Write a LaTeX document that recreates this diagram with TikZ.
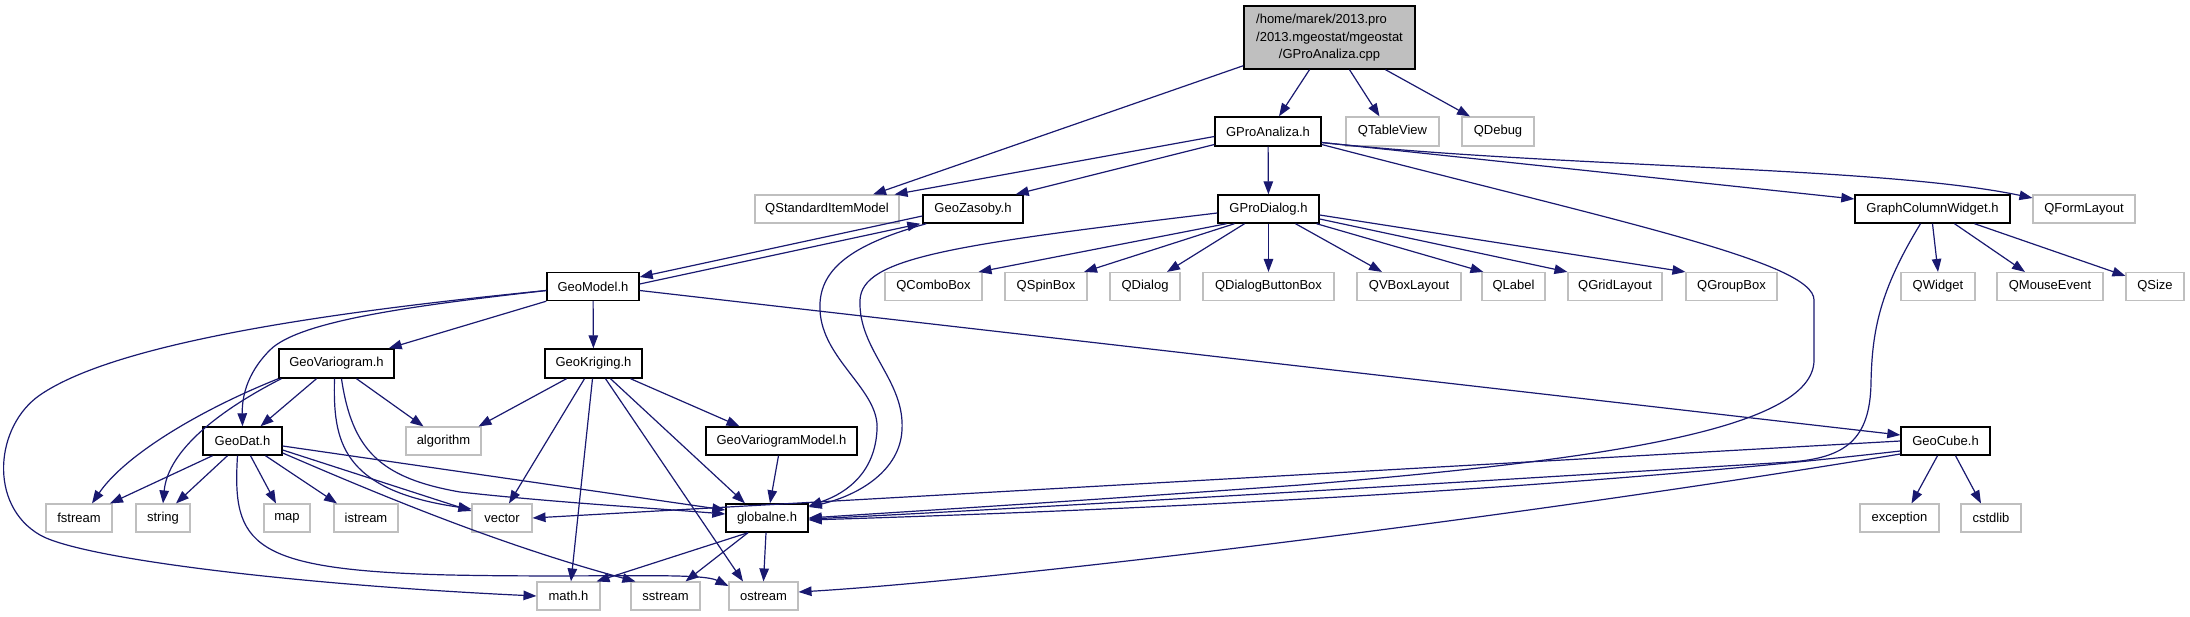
\documentclass[tikz,border=0pt]{standalone}
\usepackage{fontspec}
\setmainfont{Liberation Sans}
\usetikzlibrary{arrows.meta}
\definecolor{edgec}{RGB}{25,25,112}
\definecolor{greyb}{RGB}{191,191,191}
\begin{document}
\begin{tikzpicture}[x=1pt,y=-1pt,font=\fontsize{13}{15}\selectfont,
  doc/.style={draw=black,line width=1.4pt,inner sep=0pt,minimum height=28pt},
  ext/.style={draw=greyb,line width=1.1pt,inner sep=0pt,minimum height=28pt},
  rootbox/.style={draw=black,fill=greyb,line width=1.4pt,inner sep=0pt,minimum height=63pt,minimum width=171pt},
  edge/.style={draw=edgec,line width=1.2pt,-{Triangle[length=13pt,width=9.5pt]}}]
\useasboundingbox (0,0) rectangle (2190,616);
% row 0
\node[rootbox] (cpp) at (1329.5,37.5) {\fontsize{13}{17.5}\selectfont\begin{tabular}{@{}l@{}}/home/marek/2013.pro\\/2013.mgeostat/mgeostat\\\multicolumn{1}{@{}c@{}}{/GProAnaliza.cpp}\end{tabular}};
% row 1
\node[doc,minimum width=106pt,minimum height=29pt] (gpa) at (1268,131.5) {GProAnaliza.h};
\node[ext,minimum width=93pt,minimum height=29pt] (qtv) at (1392.5,131.5) {QTableView};
\node[ext,minimum width=72pt,minimum height=29pt] (qdb) at (1498,131.5) {QDebug};
% row 2
\node[ext,minimum width=144pt] (qsim) at (827,209) {QStandardItemModel};
\node[doc,minimum width=100pt] (gz) at (973,209) {GeoZasoby.h};
\node[doc,minimum width=101pt] (gpd) at (1268.5,209) {GProDialog.h};
\node[doc,minimum width=155pt] (gcw) at (1932.5,209) {GraphColumnWidget.h};
\node[ext,minimum width=102pt] (qfl) at (2084,209) {QFormLayout};
% row 3
\node[doc,minimum width=92pt] (gm) at (593,286.5) {GeoModel.h};
\node[ext,minimum width=97pt] (qcb) at (933.5,286.5) {QComboBox};
\node[ext,minimum width=82pt] (qsb) at (1046,286.5) {QSpinBox};
\node[ext,minimum width=70pt] (qd) at (1145,286.5) {QDialog};
\node[ext,minimum width=131pt] (qdbb) at (1268.5,286.5) {QDialogButtonBox};
\node[ext,minimum width=104pt] (qvb) at (1409,286.5) {QVBoxLayout};
\node[ext,minimum width=63pt] (qlab) at (1513.5,286.5) {QLabel};
\node[ext,minimum width=94pt] (qgl) at (1615,286.5) {QGridLayout};
\node[ext,minimum width=91pt] (qgb) at (1731.5,286.5) {QGroupBox};
\node[ext,minimum width=74pt] (qw) at (1938,286.5) {QWidget};
\node[ext,minimum width=106pt] (qme) at (2050,286.5) {QMouseEvent};
\node[ext,minimum width=58pt] (qs) at (2155,286.5) {QSize};
% row 4
\node[doc,minimum width=115pt,minimum height=29pt] (gv) at (336.5,363.5) {GeoVariogram.h};
\node[doc,minimum width=97pt,minimum height=29pt] (gk) at (593.5,363.5) {GeoKriging.h};
% row 5
\node[doc,minimum width=79pt] (gd) at (242.5,441) {GeoDat.h};
\node[ext,minimum width=75pt] (alg) at (443.5,441) {algorithm};
\node[doc,minimum width=151pt] (gvm) at (781.5,441) {GeoVariogramModel.h};
\node[doc,minimum width=89pt] (gc) at (1945.5,441) {GeoCube.h};
% row 6
\node[ext,minimum width=66pt] (fs) at (79,518) {fstream};
\node[ext,minimum width=54pt] (str) at (163,518) {string};
\node[ext,minimum width=46pt] (map) at (287,518) {map};
\node[ext,minimum width=64pt] (ist) at (366,518) {istream};
\node[ext,minimum width=60pt] (vec) at (502,518) {vector};
\node[doc,minimum width=82pt] (glob) at (767,518) {globalne.h};
\node[ext,minimum width=79pt] (exc) at (1899.5,518) {exception};
\node[ext,minimum width=60pt] (cst) at (1991,518) {cstdlib};
% row 7
\node[ext,minimum width=63pt] (mh) at (568.5,596) {math.h};
\node[ext,minimum width=69pt] (ss) at (665.5,596) {sstream};
\node[ext,minimum width=69pt] (ost) at (763.5,596) {ostream};

% cpp
\draw[edge] ([yshift=4pt]cpp.south west) -- ([xshift=46pt]qsim.north);
\draw[edge] ([xshift=-20pt]cpp.south) -- ([xshift=11pt]gpa.north);
\draw[edge] ([xshift=20pt]cpp.south) -- ([xshift=-13pt]qtv.north);
\draw[edge] ([xshift=56pt]cpp.south) -- ([xshift=-28pt]qdb.north);
% GProAnaliza.h
\draw[edge] ([yshift=-5pt]gpa.west) -- ([xshift=-5pt]qsim.north east);
\draw[edge] ([yshift=-13pt]gpa.west) -- ([xshift=-8pt]gz.north east);
\draw[edge] (gpa) -- (gpd);
\draw[edge] ([yshift=-11pt]gpa.east) -- ([yshift=10pt]gcw.west);
\draw[edge] ([yshift=-11pt]gpa.east) .. controls (1560,168) and (1880,166) .. ([yshift=11pt]qfl.west);
\draw[edge] ([yshift=-13pt]gpa.east) .. controls (1620,222) and (1814,262) .. (1814,300) -- (1814,360) .. controls (1814,430) and (1600,460) .. (1300,485) .. controls (1050,503) and (900,512) .. (glob.east);
% GeoZasoby
\draw[edge] ([yshift=-7pt]gz.west) -- ([yshift=9.5pt]gm.east);
\draw[edge] ([xshift=4pt]gz.south west) .. controls (850,245) and (818,270) .. (820,310) .. controls (822,360) and (880,390) .. (877,430) .. controls (875,470) and (850,492) .. ([yshift=12pt]glob.east);
% GProDialog
\draw[edge] ([xshift=-42pt]gpd.south) -- ([xshift=45pt]qcb.north);
\draw[edge] ([xshift=-34pt]gpd.south) -- ([xshift=38pt]qsb.north);
\draw[edge] ([xshift=-24pt]gpd.south) -- ([xshift=22pt]qd.north);
\draw[edge] (gpd) -- (qdbb);
\draw[edge] ([xshift=27pt]gpd.south) -- ([xshift=-27pt]qvb.north);
\draw[edge] ([xshift=48pt]gpd.south) -- ([xshift=2pt]qlab.north west);
\draw[edge] ([yshift=-10pt]gpd.east) -- (qgl.north west);
\draw[edge] ([yshift=-6pt]gpd.east) -- (qgb.north west);
\draw[edge] ([yshift=-4pt]gpd.west) .. controls (950,245) and (862,258) .. (860,300) .. controls (858,350) and (905,380) .. (902,430) .. controls (900,470) and (860,495) .. ([yshift=11pt]glob.east);
% GraphColumnWidget
\draw[edge] (gcw.south) -- (qw.north);
\draw[edge] ([xshift=22pt]gcw.south) -- ([xshift=-25pt]qme.north);
\draw[edge] ([xshift=42pt]gcw.south) -- ([yshift=-4pt]qs.north west);
\draw[edge] ([xshift=-12pt]gcw.south) .. controls (1880,290) and (1872,330) .. (1871,383) .. controls (1870,440) and (1845,458) .. (1790,462) .. controls (1500,480) and (1000,510) .. ([yshift=-1pt]glob.east);
% GeoModel
\draw[edge] ([yshift=2.5pt]gm.east) -- ([xshift=-2pt]gz.south west);
\draw[edge] (gm.south west) -- ([xshift=-6pt]gv.north east);
\draw[edge] (gm) -- (gk);
\draw[edge] ([yshift=-4pt]gm.west) .. controls (420,305) and (300,320) .. (270,350) .. controls (245,375) and (242,400) .. (gd.north);
\draw[edge] ([yshift=-4pt]gm.west) .. controls (350,310) and (120,340) .. (40,395) .. controls (-5,426) and (-12,505) .. (40,535) .. controls (82,559) and (300,585) .. (mh.west);
\draw[edge] ([yshift=-4pt]gm.east) -- ([yshift=6pt]gc.west);
% GeoVariogram
\draw[edge] ([xshift=-20pt]gv.south) -- ([xshift=18pt]gd.north);
\draw[edge] ([xshift=20pt]gv.south) -- ([xshift=-20pt]alg.north);
\draw[edge] (gv.south west) .. controls (200,410) and (125,455) .. ([xshift=13pt]fs.north);
\draw[edge] ([xshift=3pt]gv.south west) .. controls (220,410) and (168,450) .. (str.north);
\draw[edge] ([xshift=-2pt]gv.south) .. controls (333,440) and (340,490) .. ([yshift=9pt]vec.west);
\draw[edge] ([xshift=5pt]gv.south) .. controls (352,450) and (380,478) .. (460,492) .. controls (550,502) and (650,508) .. ([yshift=4pt]glob.west);
% GeoKriging
\draw[edge] ([xshift=-27pt]gk.south) -- ([xshift=35pt]alg.north);
\draw[edge] ([xshift=-9pt]gk.south) -- ([xshift=7pt]vec.north);
\draw[edge] ([xshift=-1pt]gk.south) -- ([xshift=2.5pt]mh.north);
\draw[edge] ([xshift=12pt]gk.south) -- ([xshift=-20.5pt]ost.north);
\draw[edge] ([xshift=17pt]gk.south) -- ([xshift=-22pt]glob.north);
\draw[edge] ([xshift=37pt]gk.south) -- ([xshift=-42pt]gvm.north);
% GeoDat
\draw[edge] ([xshift=-30pt]gd.south) -- ([xshift=31pt]fs.north);
\draw[edge] ([xshift=-15pt]gd.south) -- ([xshift=13pt]str.north);
\draw[edge] ([xshift=8pt]gd.south) -- ([xshift=-11pt]map.north);
\draw[edge] ([xshift=23pt]gd.south) -- ([xshift=-29pt]ist.north);
\draw[edge] ([yshift=-9pt]gd.east) -- ([yshift=7pt]vec.west);
\draw[edge] ([yshift=-12pt]gd.east) .. controls (380,495) and (500,545) .. ([xshift=5pt]ss.north west);
\draw[edge] ([xshift=-5pt]gd.south) .. controls (232,545) and (250,570) .. (450,575) .. controls (600,578) and (700,572) .. ([yshift=10pt]ost.west);
\draw[edge] ([yshift=-5pt]gd.east) -- ([yshift=8pt]glob.west);
% GeoVariogramModel
\draw[edge] ([xshift=-3pt]gvm.south) -- ([xshift=3pt]glob.north);
% globalne
\draw[edge] ([xshift=-19pt]glob.south) -- ([xshift=28pt]mh.north);
\draw[edge] ([xshift=-19pt]glob.south) -- ([xshift=20pt]ss.north);
\draw[edge] ([xshift=-1pt]glob.south) -- (ost.north);
% GeoCube
\draw[edge] (gc.west) -- (vec.east);
\draw[edge] ([yshift=-10pt]gc.west) .. controls (1500,497) and (1000,514) .. ([yshift=-2pt]glob.east);
\draw[edge] ([yshift=-13pt]gc.west) .. controls (1500,520) and (1000,580) .. ([yshift=4pt]ost.east);
\draw[edge] ([xshift=-8pt]gc.south) -- ([xshift=12pt]exc.north);
\draw[edge] ([xshift=10pt]gc.south) -- ([xshift=-10pt]cst.north);
\end{tikzpicture}
\end{document}
